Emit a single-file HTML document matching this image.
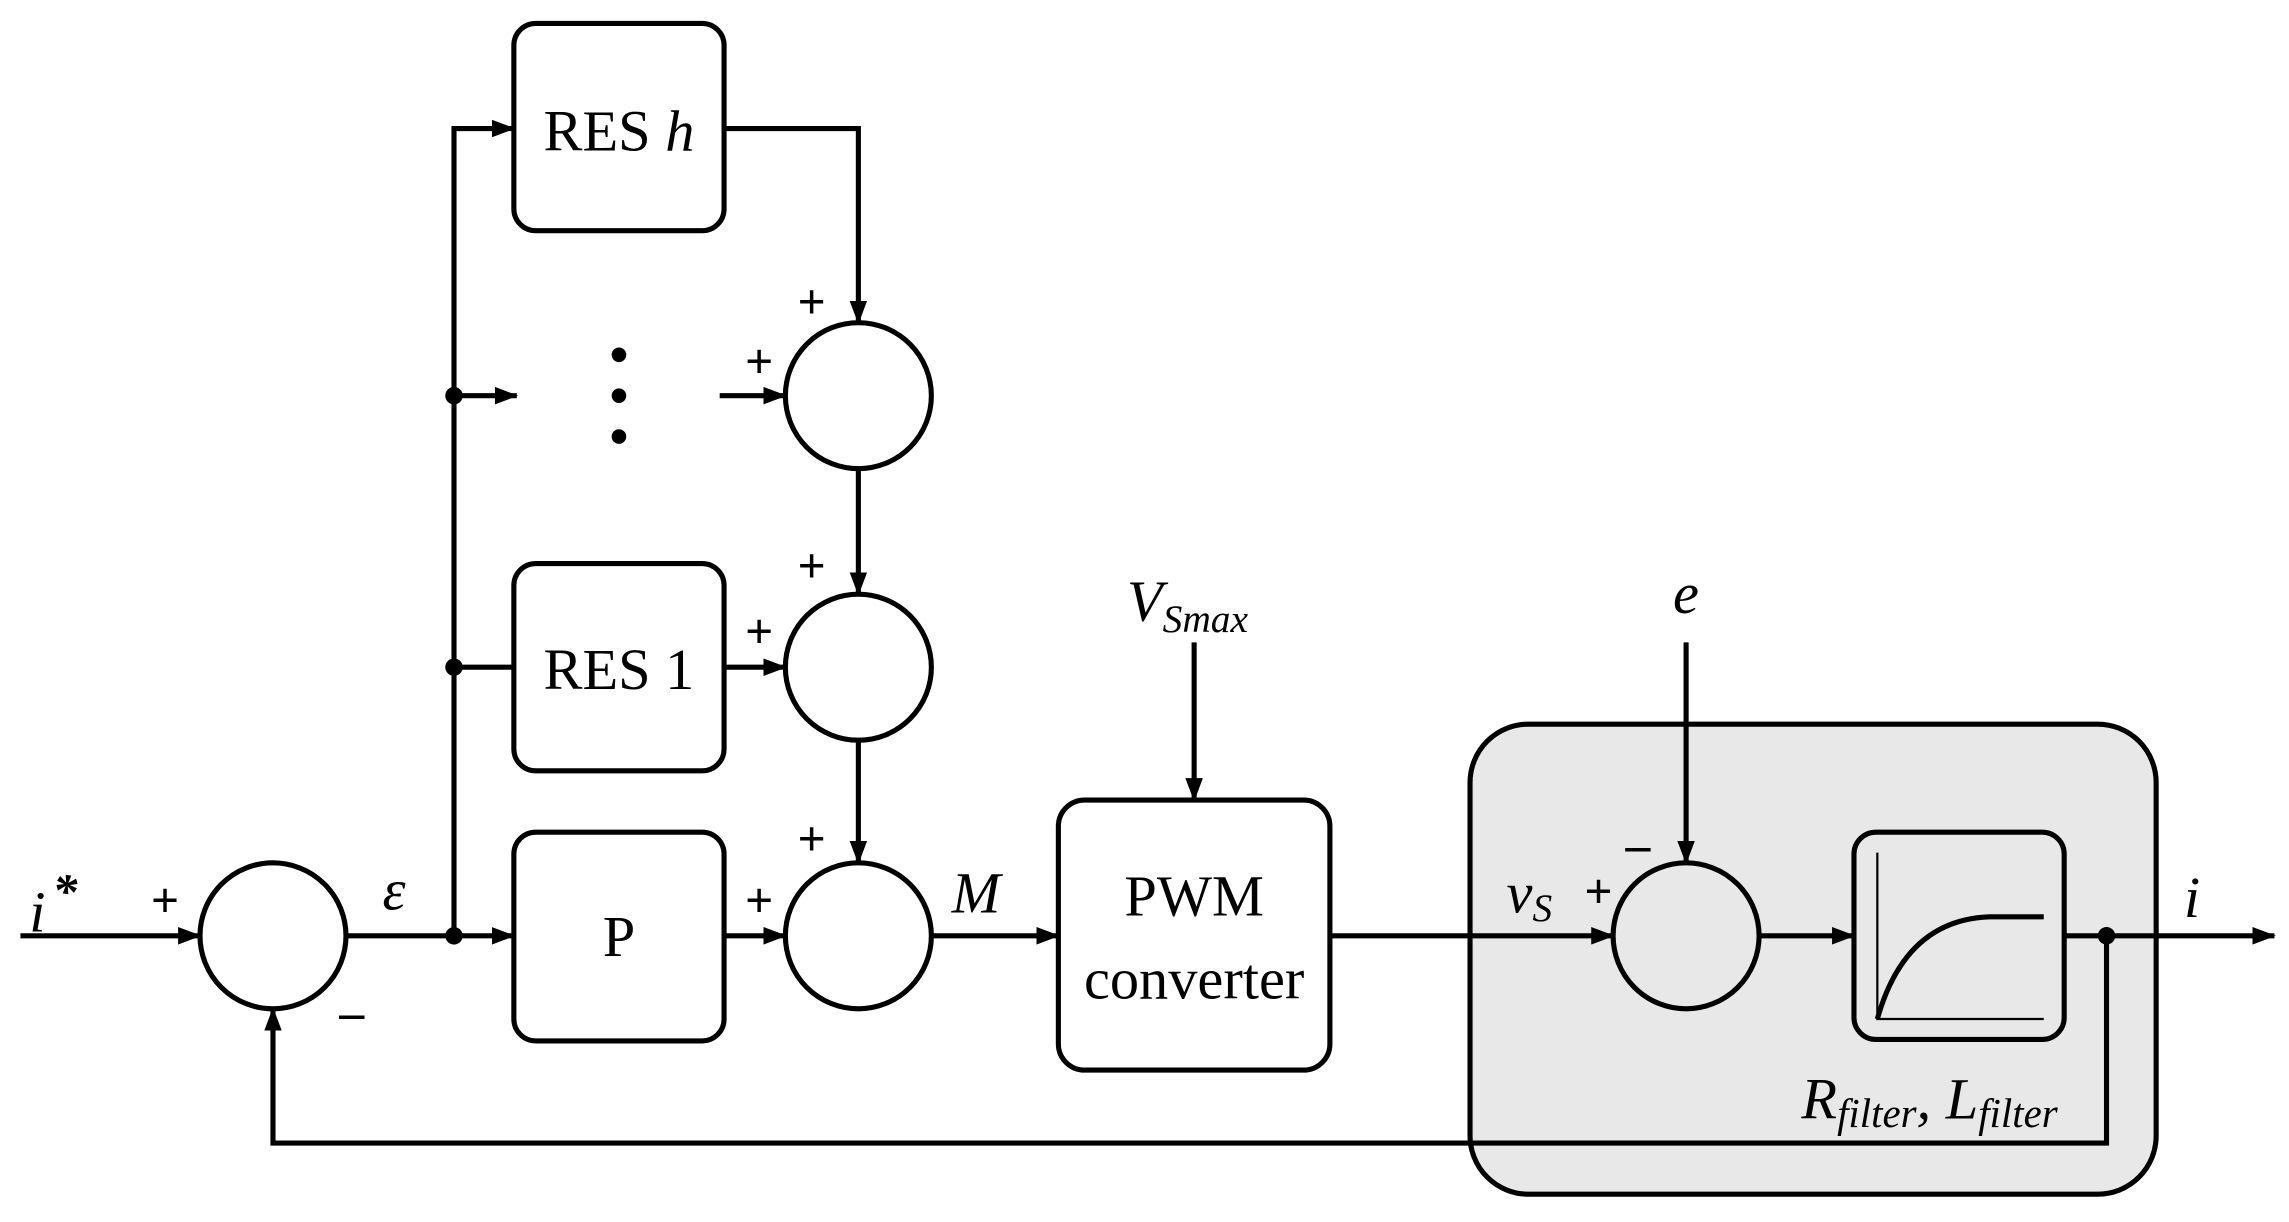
<!DOCTYPE html>
<html><head><meta charset="utf-8"><style>
html,body{margin:0;padding:0;background:#fff}
svg{display:block}
text{font-family:"Liberation Serif",serif;fill:#000;font-weight:bold}
</style></head><body>
<svg width="2289" height="1222" viewBox="0 0 1568 837" xmlns="http://www.w3.org/2000/svg">
<defs><marker id="a" markerWidth="16" markerHeight="12" refX="15" refY="6" orient="auto" markerUnits="userSpaceOnUse" viewBox="0 0 16 12"><path d="M0,0 L16,6 L0,12 z" fill="#000"/></marker></defs>
<g stroke="#000" stroke-width="3.5" fill="none">
<rect x="1007" y="496" width="470" height="322" rx="40" fill="#e8e8e8"/>
<rect x="352" y="16" width="144" height="142" rx="15" fill="#fff"/>
<rect x="352" y="386" width="144" height="142" rx="15" fill="#fff"/>
<rect x="352" y="570" width="144" height="143" rx="15" fill="#fff"/>
<rect x="725" y="548" width="186" height="185" rx="18" fill="#fff"/>
<rect x="1270" y="570" width="144" height="142" rx="15" fill="#e8e8e8"/>
<circle cx="187" cy="641" r="50"/>
<circle cx="588" cy="271" r="50"/>
<circle cx="588" cy="457" r="50"/>
<circle cx="588" cy="641" r="50"/>
<circle cx="1155" cy="641" r="50"/>
<path d="M1286,584 V698 H1400" stroke-width="1.5"/>
<path d="M1286,698 Q1305,630 1363,628 H1400" stroke-width="3.5"/>
<line x1="14" y1="641" x2="137" y2="641" marker-end="url(#a)"/>
<line x1="237" y1="641" x2="352" y2="641" marker-end="url(#a)"/>
<path d="M311,641 V88 H352" marker-end="url(#a)"/>
<line x1="311" y1="271" x2="354" y2="271" marker-end="url(#a)"/>
<line x1="311" y1="457" x2="352" y2="457"/>
<path d="M496,88 H588 V221" marker-end="url(#a)"/>
<line x1="493" y1="271" x2="538" y2="271" marker-end="url(#a)"/>
<line x1="588" y1="321" x2="588" y2="407" marker-end="url(#a)"/>
<line x1="496" y1="457" x2="538" y2="457" marker-end="url(#a)"/>
<line x1="588" y1="507" x2="588" y2="591" marker-end="url(#a)"/>
<line x1="496" y1="641" x2="538" y2="641" marker-end="url(#a)"/>
<line x1="638" y1="641" x2="725" y2="641" marker-end="url(#a)"/>
<line x1="818" y1="440" x2="818" y2="548" marker-end="url(#a)"/>
<line x1="911" y1="641" x2="1105" y2="641" marker-end="url(#a)"/>
<line x1="1155" y1="440" x2="1155" y2="591" marker-end="url(#a)"/>
<line x1="1205" y1="641" x2="1270" y2="641" marker-end="url(#a)"/>
<line x1="1414" y1="641" x2="1558" y2="641" marker-end="url(#a)"/>
<path d="M1443,641 V783 H187 V691" marker-end="url(#a)"/>
</g>
<g fill="#000">
<circle cx="311" cy="271" r="6"/><circle cx="311" cy="457" r="6"/><circle cx="311" cy="641" r="6"/>
<circle cx="1443" cy="641" r="6"/>
<circle cx="424" cy="243" r="5"/><circle cx="424" cy="271" r="5"/><circle cx="424" cy="299" r="5"/>
</g>
<g font-size="40" text-anchor="middle" font-weight="normal">
<text x="424" y="103" style="font-weight:normal">RES <tspan font-style="italic">h</tspan></text>
<text x="424" y="472" style="font-weight:normal">RES 1</text>
<text x="424" y="655" style="font-weight:normal">P</text>
<text x="818" y="627" style="font-weight:normal">PWM</text>
<text x="818" y="684" style="font-weight:normal">converter</text>
</g>
<g font-size="34" text-anchor="middle">
<text x="113" y="628">+</text><text x="556" y="218">+</text><text x="520" y="259">+</text>
<text x="556" y="399">+</text><text x="520" y="444">+</text><text x="556" y="586">+</text>
<text x="520" y="628">+</text><text x="1095" y="622">+</text>
<text x="241" y="705">–</text><text x="1122" y="590">–</text>
</g>
<g font-size="40" font-style="italic" style="font-weight:normal">
<text x="20" y="638" style="font-weight:normal">i</text><text x="36" y="622" font-size="34">*</text>
<text x="262" y="623" style="font-weight:normal">ε</text>
<text x="652" y="625" style="font-weight:normal">M</text>
<text x="772" y="425" style="font-weight:normal">V<tspan font-size="27" dy="8">Smax</tspan></text>
<text x="1146" y="420" style="font-weight:normal">e</text>
<text x="1032" y="625" style="font-weight:normal">v<tspan font-size="27" dy="6">S</tspan></text>
<text x="1496" y="628" style="font-weight:normal">i</text>
<text x="1234" y="766" style="font-weight:normal">R<tspan font-size="28" dy="6">filter</tspan><tspan dy="-6">, L</tspan><tspan font-size="28" dy="6">filter</tspan></text>
</g>
</svg>
</body></html>
